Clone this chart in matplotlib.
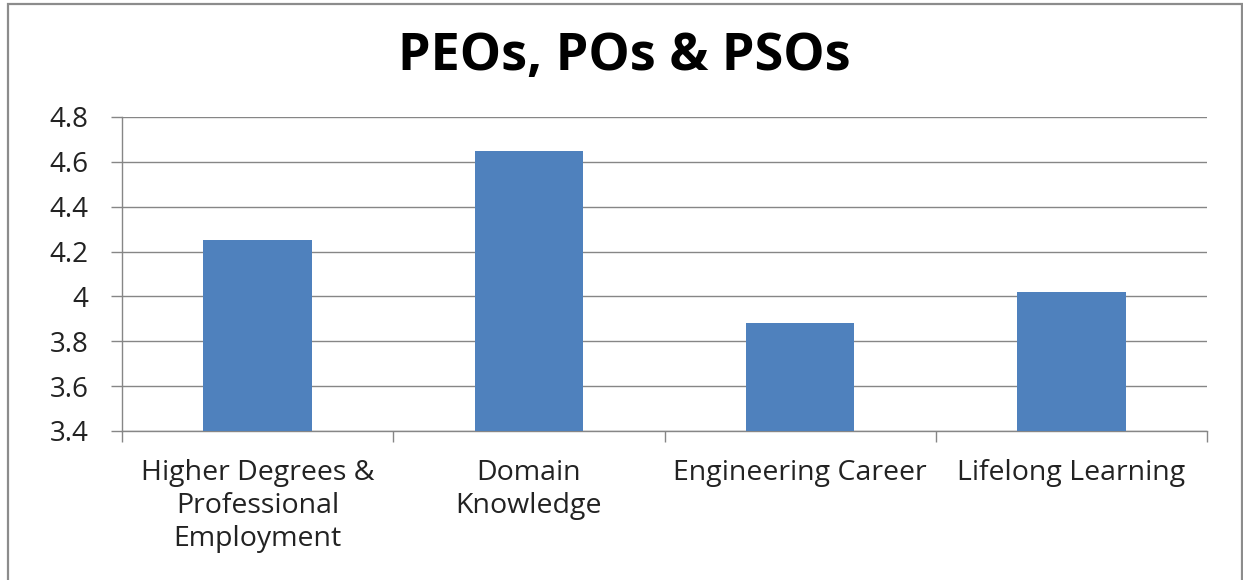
import matplotlib
matplotlib.use('Agg')
import matplotlib.pyplot as plt
from matplotlib.patches import Rectangle
import numpy as np

# data
categories = ['Higher Degrees &\nProfessional\nEmployment', 'Domain\nKnowledge',
              'Engineering Career', 'Lifelong Learning']
scores = [4.25, 4.65, 3.88, 4.02]
y_ticks = [3.4, 3.6, 3.8, 4.0, 4.2, 4.4, 4.6, 4.8]
y_labels = ['3.4', '3.6', '3.8', '4', '4.2', '4.4', '4.6', '4.8']

plt.rcParams['font.family'] = ['Open Sans', 'DejaVu Sans']

fig = plt.figure(figsize=(12.43, 5.8), dpi=100)
ax = fig.add_axes([0.0982, 0.2569, 0.8729, 0.5414])

x = np.arange(len(categories))
ax.bar(x, scores, width=0.4, color='#4F81BD', zorder=3)

ax.set_xlim(-0.5, len(categories) - 0.5)
ax.set_ylim(3.4, 4.8)
ax.set_yticks(y_ticks)
ax.set_yticklabels(y_labels, fontsize=20, color='#222222')

# category labels centred, ticks on the boundaries
ax.set_xticks(x)
ax.set_xticklabels(categories, fontsize=20.5, color='#222222', linespacing=1.24, va='top')
ax.tick_params(axis='x', which='major', length=0, pad=20)
ax.set_xticks(np.arange(-0.5, len(categories), 1.0), minor=True)
ax.tick_params(axis='x', which='minor', length=8, width=1, color='#868686', direction='out')
ax.tick_params(axis='y', length=8, width=1, color='#868686', pad=16)

ax.grid(axis='y', color='#868686', linewidth=1, zorder=0)
for side in ['top', 'right']:
    ax.spines[side].set_visible(False)
for side in ['left', 'bottom']:
    ax.spines[side].set_color('#868686')
    ax.spines[side].set_linewidth(1)

fig.text(0.502, 0.902, 'PEOs, POs & PSOs', ha='center', va='center',
         fontsize=37.5, fontweight='bold', color='black')

# outer chart frame
fig.patches.append(Rectangle((8 / 1243, -0.05), (1234 / 1243), 1 - 3.5 / 580 + 0.05,
                             transform=fig.transFigure, fill=False,
                             edgecolor='#8c8c8c', linewidth=1.6))

fig.savefig('out.png', dpi=100)
